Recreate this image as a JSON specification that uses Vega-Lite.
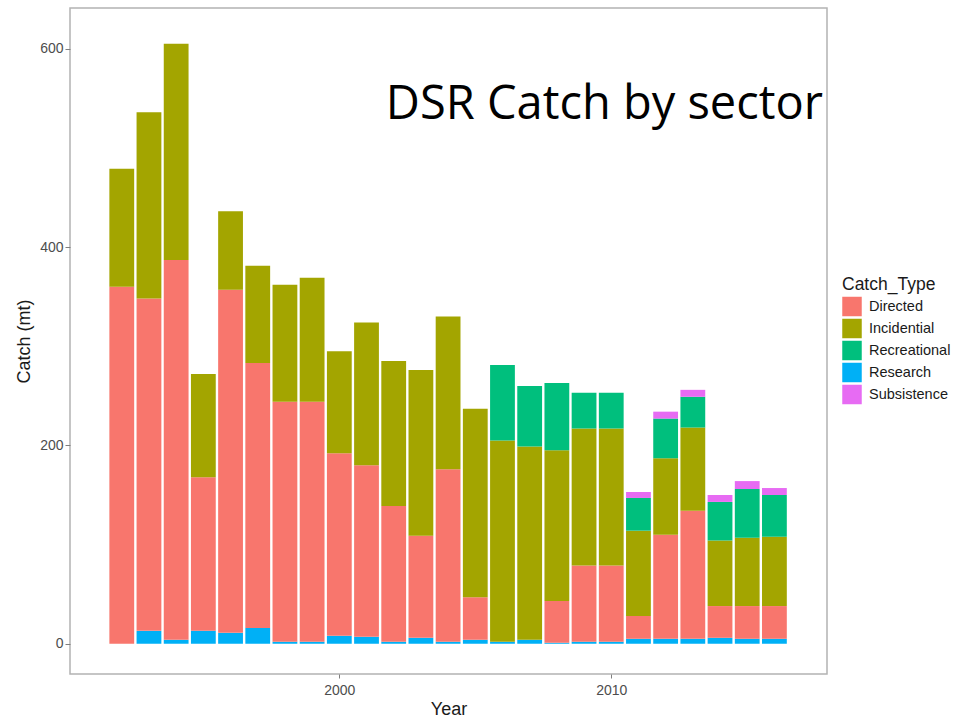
{
  "$schema": "https://vega.github.io/schema/vega-lite/v6.json",
  "autosize": "none",
  "width": 757,
  "height": 666,
  "padding": {"left": 70, "top": 8, "right": 140, "bottom": 49},
  "background": "white",
  "title": {
    "text": "DSR Catch by sector",
    "orient": "top",
    "anchor": "end",
    "frame": "group",
    "font": "Open Sans",
    "fontSize": 47,
    "fontWeight": "normal",
    "color": "black",
    "baseline": "alphabetic",
    "offset": 0,
    "dy": 158,
    "dx": -4
  },
  "data": {
    "values": [
      {"Year": 1992, "Catch_Type": "Directed", "Catch": 360},
      {"Year": 1992, "Catch_Type": "Incidential", "Catch": 119},
      {"Year": 1993, "Catch_Type": "Research", "Catch": 13},
      {"Year": 1993, "Catch_Type": "Directed", "Catch": 335},
      {"Year": 1993, "Catch_Type": "Incidential", "Catch": 188},
      {"Year": 1994, "Catch_Type": "Research", "Catch": 4},
      {"Year": 1994, "Catch_Type": "Directed", "Catch": 383},
      {"Year": 1994, "Catch_Type": "Incidential", "Catch": 218},
      {"Year": 1995, "Catch_Type": "Research", "Catch": 13},
      {"Year": 1995, "Catch_Type": "Directed", "Catch": 155},
      {"Year": 1995, "Catch_Type": "Incidential", "Catch": 104},
      {"Year": 1996, "Catch_Type": "Research", "Catch": 11},
      {"Year": 1996, "Catch_Type": "Directed", "Catch": 346},
      {"Year": 1996, "Catch_Type": "Incidential", "Catch": 79},
      {"Year": 1997, "Catch_Type": "Research", "Catch": 16},
      {"Year": 1997, "Catch_Type": "Directed", "Catch": 267},
      {"Year": 1997, "Catch_Type": "Incidential", "Catch": 98},
      {"Year": 1998, "Catch_Type": "Research", "Catch": 2},
      {"Year": 1998, "Catch_Type": "Directed", "Catch": 242},
      {"Year": 1998, "Catch_Type": "Incidential", "Catch": 118},
      {"Year": 1999, "Catch_Type": "Research", "Catch": 2},
      {"Year": 1999, "Catch_Type": "Directed", "Catch": 242},
      {"Year": 1999, "Catch_Type": "Incidential", "Catch": 125},
      {"Year": 2000, "Catch_Type": "Research", "Catch": 8},
      {"Year": 2000, "Catch_Type": "Directed", "Catch": 184},
      {"Year": 2000, "Catch_Type": "Incidential", "Catch": 103},
      {"Year": 2001, "Catch_Type": "Research", "Catch": 7},
      {"Year": 2001, "Catch_Type": "Directed", "Catch": 173},
      {"Year": 2001, "Catch_Type": "Incidential", "Catch": 144},
      {"Year": 2002, "Catch_Type": "Research", "Catch": 2},
      {"Year": 2002, "Catch_Type": "Directed", "Catch": 137},
      {"Year": 2002, "Catch_Type": "Incidential", "Catch": 146},
      {"Year": 2003, "Catch_Type": "Research", "Catch": 6},
      {"Year": 2003, "Catch_Type": "Directed", "Catch": 103},
      {"Year": 2003, "Catch_Type": "Incidential", "Catch": 167},
      {"Year": 2004, "Catch_Type": "Research", "Catch": 2},
      {"Year": 2004, "Catch_Type": "Directed", "Catch": 174},
      {"Year": 2004, "Catch_Type": "Incidential", "Catch": 154},
      {"Year": 2005, "Catch_Type": "Research", "Catch": 4},
      {"Year": 2005, "Catch_Type": "Directed", "Catch": 43},
      {"Year": 2005, "Catch_Type": "Incidential", "Catch": 190},
      {"Year": 2006, "Catch_Type": "Research", "Catch": 2},
      {"Year": 2006, "Catch_Type": "Incidential", "Catch": 203},
      {"Year": 2006, "Catch_Type": "Recreational", "Catch": 76},
      {"Year": 2007, "Catch_Type": "Research", "Catch": 4},
      {"Year": 2007, "Catch_Type": "Incidential", "Catch": 195},
      {"Year": 2007, "Catch_Type": "Recreational", "Catch": 61},
      {"Year": 2008, "Catch_Type": "Research", "Catch": 1},
      {"Year": 2008, "Catch_Type": "Directed", "Catch": 42},
      {"Year": 2008, "Catch_Type": "Incidential", "Catch": 152},
      {"Year": 2008, "Catch_Type": "Recreational", "Catch": 68},
      {"Year": 2009, "Catch_Type": "Research", "Catch": 2},
      {"Year": 2009, "Catch_Type": "Directed", "Catch": 77},
      {"Year": 2009, "Catch_Type": "Incidential", "Catch": 138},
      {"Year": 2009, "Catch_Type": "Recreational", "Catch": 36},
      {"Year": 2010, "Catch_Type": "Research", "Catch": 2},
      {"Year": 2010, "Catch_Type": "Directed", "Catch": 77},
      {"Year": 2010, "Catch_Type": "Incidential", "Catch": 138},
      {"Year": 2010, "Catch_Type": "Recreational", "Catch": 36},
      {"Year": 2011, "Catch_Type": "Research", "Catch": 5},
      {"Year": 2011, "Catch_Type": "Directed", "Catch": 23},
      {"Year": 2011, "Catch_Type": "Incidential", "Catch": 86},
      {"Year": 2011, "Catch_Type": "Recreational", "Catch": 33},
      {"Year": 2011, "Catch_Type": "Subsistence", "Catch": 6},
      {"Year": 2012, "Catch_Type": "Research", "Catch": 5},
      {"Year": 2012, "Catch_Type": "Directed", "Catch": 105},
      {"Year": 2012, "Catch_Type": "Incidential", "Catch": 77},
      {"Year": 2012, "Catch_Type": "Recreational", "Catch": 40},
      {"Year": 2012, "Catch_Type": "Subsistence", "Catch": 7},
      {"Year": 2013, "Catch_Type": "Research", "Catch": 5},
      {"Year": 2013, "Catch_Type": "Directed", "Catch": 129},
      {"Year": 2013, "Catch_Type": "Incidential", "Catch": 84},
      {"Year": 2013, "Catch_Type": "Recreational", "Catch": 31},
      {"Year": 2013, "Catch_Type": "Subsistence", "Catch": 7},
      {"Year": 2014, "Catch_Type": "Research", "Catch": 6},
      {"Year": 2014, "Catch_Type": "Directed", "Catch": 32},
      {"Year": 2014, "Catch_Type": "Incidential", "Catch": 66},
      {"Year": 2014, "Catch_Type": "Recreational", "Catch": 39},
      {"Year": 2014, "Catch_Type": "Subsistence", "Catch": 7},
      {"Year": 2015, "Catch_Type": "Research", "Catch": 5},
      {"Year": 2015, "Catch_Type": "Directed", "Catch": 33},
      {"Year": 2015, "Catch_Type": "Incidential", "Catch": 69},
      {"Year": 2015, "Catch_Type": "Recreational", "Catch": 49},
      {"Year": 2015, "Catch_Type": "Subsistence", "Catch": 8},
      {"Year": 2016, "Catch_Type": "Research", "Catch": 5},
      {"Year": 2016, "Catch_Type": "Directed", "Catch": 33},
      {"Year": 2016, "Catch_Type": "Incidential", "Catch": 70},
      {"Year": 2016, "Catch_Type": "Recreational", "Catch": 42},
      {"Year": 2016, "Catch_Type": "Subsistence", "Catch": 7}
    ]
  },
  "transform": [
    {"calculate": "indexof(['Research','Directed','Incidential','Recreational','Subsistence'], datum.Catch_Type)", "as": "stack_order"}
  ],
  "mark": {"type": "bar", "width": 24.8},
  "encoding": {
    "x": {
      "field": "Year",
      "type": "quantitative",
      "scale": {"domain": [1990.28, 2017.75], "nice": false, "zero": false},
      "axis": {
        "values": [2000, 2010],
        "format": "d",
        "title": "Year",
        "grid": false,
        "domain": false,
        "tickSize": 4,
        "tickColor": "#7f7f7f",
        "labelPadding": 5,
        "labelFont": "Liberation Sans",
        "labelFontSize": 14,
        "labelColor": "#4d4d4d",
        "titleFont": "Liberation Sans",
        "titleFontSize": 18,
        "titleFontWeight": "normal",
        "titleColor": "#1a1a1a",
        "titlePadding": 3
      }
    },
    "y": {
      "field": "Catch",
      "type": "quantitative",
      "stack": "zero",
      "scale": {"domain": [-30.5, 641], "nice": false, "zero": false},
      "axis": {
        "values": [0, 200, 400, 600],
        "title": "Catch (mt)",
        "grid": false,
        "domain": false,
        "tickSize": 5,
        "tickColor": "#7f7f7f",
        "labelPadding": 2,
        "labelFont": "Liberation Sans",
        "labelFontSize": 14,
        "labelColor": "#4d4d4d",
        "titleFont": "Liberation Sans",
        "titleFontSize": 18,
        "titleFontWeight": "normal",
        "titleColor": "#1a1a1a",
        "titlePadding": 6
      }
    },
    "color": {
      "field": "Catch_Type",
      "type": "nominal",
      "scale": {
        "domain": ["Directed", "Incidential", "Recreational", "Research", "Subsistence"],
        "range": ["#F8766D", "#A3A500", "#00BF7D", "#00B0F6", "#E76BF3"]
      },
      "legend": {
        "title": "Catch_Type",
        "orient": "none",
        "legendX": 772,
        "legendY": 268,
        "symbolType": "square",
        "symbolSize": 380,
        "symbolStrokeWidth": 0,
        "symbolOpacity": 1,
        "rowPadding": 2,
        "labelFont": "Liberation Sans",
        "labelFontSize": 14.5,
        "labelColor": "#1a1a1a",
        "labelOffset": 7,
        "titleFont": "Liberation Sans",
        "titleFontSize": 17.5,
        "titleFontWeight": "normal",
        "titleColor": "#1a1a1a",
        "titlePadding": 3
      }
    },
    "order": {"field": "stack_order", "type": "quantitative", "sort": "ascending"}
  },
  "config": {
    "view": {"stroke": "#b3b3b3", "strokeWidth": 1.5, "fill": "white"}
  }
}
